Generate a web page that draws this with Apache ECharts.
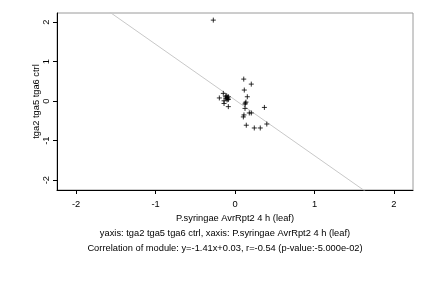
<!DOCTYPE html>
<html>
<head>
<meta charset="utf-8">
<script src="https://cdn.jsdelivr.net/npm/echarts@6/dist/echarts.min.js"></script>
<style>html,body{margin:0;padding:0;background:#fff}#c{width:432px;height:288px}</style>
</head>
<body>
<div id="c"></div>
<script>
const xValues = [-0.273,-0.147,-0.197,-0.105,-0.084,-0.113,-0.084,-0.138,-0.138,-0.084,-0.097,-0.12,-0.1,-0.09,
  0.11,0.205,0.117,0.155,0.138,0.126,0.13,0.126,0.37,0.18,0.205,0.105,0.113,0.142,0.243,0.318,0.40];
const yValues = [2.05,0.195,0.08,0.135,0.11,0.07,0.04,0.008,-0.06,-0.14,0.09,0.11,0.03,0.06,
  0.557,0.43,0.28,0.11,-0.025,-0.076,-0.05,-0.185,-0.16,-0.30,-0.30,-0.40,-0.35,-0.61,-0.68,-0.68,-0.58];
const xTicks = [-2,-1,0,1,2];
const yTicks = [-2,-1,0,1,2];
const slope = -1.41, intercept = 0.03;
const xName = 'P.syringae AvrRpt2 4 h (leaf)';
const yName = 'tga2 tga5 tga6 ctrl';
const subtitle1 = 'yaxis: tga2 tga5 tga6 ctrl, xaxis: P.syringae AvrRpt2 4 h (leaf)';
const subtitle2 = 'Correlation of module: y=-1.41x+0.03, r=-0.54 (p-value:-5.000e-02)';

const xMin = -2.24, xMax = 2.24, yMin = -2.25, yMax = 2.23;
const font = 'Liberation Sans, Arial, sans-serif';
const fs = 9.3;
const pts = xValues.map((x,i)=>[x,yValues[i]]);
const fitLine = [[xMin, slope*xMin+intercept],[xMax, slope*xMax+intercept]];

const chart = echarts.init(document.getElementById('c'), null, {renderer:'canvas'});
chart.setOption({
  animation:false,
  backgroundColor:'#fff',
  grid:{left:57,right:19,top:13,bottom:98,show:true,borderColor:'#9a9a9a',borderWidth:1,backgroundColor:'transparent'},
  xAxis:{type:'value',min:xMin,max:xMax,
    name:xName,nameLocation:'middle',nameGap:24,nameMoveOverlap:false,
    nameTextStyle:{fontFamily:font,fontSize:fs,color:'#000'},
    axisLine:{show:true,onZero:false,lineStyle:{color:'#000',width:1}},
    axisTick:{show:true,length:4,lineStyle:{color:'#000'},customValues:xTicks},
    axisLabel:{show:true,fontFamily:font,fontSize:fs,color:'#000',margin:10,customValues:xTicks,formatter:v=>String(v)},
    splitLine:{show:false}},
  yAxis:{type:'value',min:yMin,max:yMax,
    name:yName,nameLocation:'middle',nameGap:16,nameRotate:90,nameMoveOverlap:false,
    nameTextStyle:{fontFamily:font,fontSize:fs,color:'#000'},
    axisLine:{show:true,onZero:false,lineStyle:{color:'#000',width:1}},
    axisTick:{show:true,length:4,lineStyle:{color:'#000'},customValues:yTicks},
    axisLabel:{show:true,rotate:90,fontFamily:font,fontSize:fs,color:'#000',margin:6,customValues:yTicks,formatter:v=>String(v)},
    splitLine:{show:false}},
  graphic:[
    {type:'text',x:225,y:233,style:{text:subtitle1,font:fs+'px '+font,fill:'#000',textAlign:'center',textVerticalAlign:'middle'}},
    {type:'text',x:225,y:248,style:{text:subtitle2,font:fs+'px '+font,fill:'#000',textAlign:'center',textVerticalAlign:'middle'}}
  ],
  series:[
    {type:'line',data:fitLine,symbol:'none',clip:true,lineStyle:{color:'#c8c8c8',width:1},silent:true,z:1},
    {type:'scatter',data:pts,symbol:'path://M0,-1L0,1M-1,0L1,0',symbolSize:5,
     itemStyle:{color:'#000',borderColor:'#000',borderWidth:1},silent:true,z:2}
  ]
});
</script>
</body>
</html>
